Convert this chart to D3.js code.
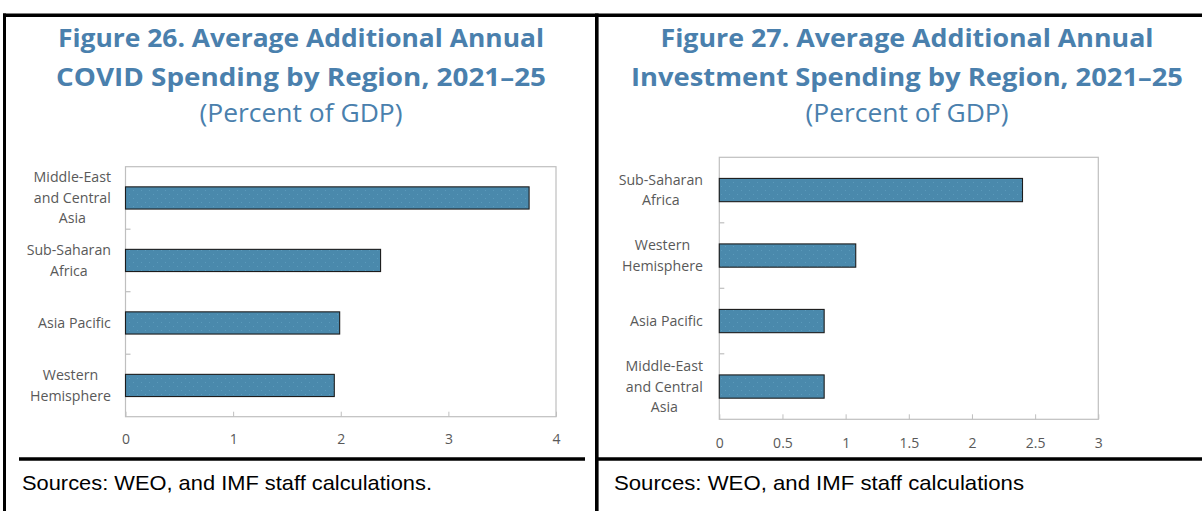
<!DOCTYPE html>
<html>
<head>
<meta charset="utf-8">
<script src="https://cdn.jsdelivr.net/npm/d3@7"></script>
<style>
  html, body { margin: 0; padding: 0; background: #fff; }
  svg { display: block; }
</style>
</head>
<body>
<svg id="chart" width="1202" height="511"></svg>
<script>
// ---------- Data ----------
const covidTitle = ["Figure 26. Average Additional Annual", "COVID Spending by Region, 2021–25"];
const covidSubtitle = "(Percent of GDP)";
const covidCategories = ["Middle-East\nand Central\nAsia", "Sub-Saharan\nAfrica", "Asia Pacific", "Western\nHemisphere"];
const covidValues = [3.75, 2.37, 1.99, 1.94];
const covidTicks = [0, 1, 2, 3, 4];
const covidSource = "Sources: WEO, and IMF staff calculations.";

const investTitle = ["Figure 27. Average Additional Annual", "Investment Spending by Region, 2021–25"];
const investSubtitle = "(Percent of GDP)";
const investCategories = ["Sub-Saharan\nAfrica", "Western\nHemisphere", "Asia Pacific", "Middle-East\nand Central\nAsia"];
const investValues = [2.40, 1.08, 0.83, 0.83];
const investTicks = [0, 0.5, 1, 1.5, 2, 2.5, 3];
const investSource = "Sources: WEO, and IMF staff calculations";

// ---------- Styling ----------
const TITLE_COLOR = "#4a80ad";
const BAR_COLOR = "#4a89ac";
const AXIS_COLOR = "#bfbfbf";
const LABEL_COLOR = "#595959";
const FONT = "'Open Sans', 'Noto Sans', sans-serif";

const svg = d3.select("#chart");

// dotted pattern for bars
const defs = svg.append("defs");
const pat = defs.append("pattern")
  .attr("id", "dots").attr("patternUnits", "userSpaceOnUse")
  .attr("width", 8).attr("height", 8);
pat.append("rect").attr("width", 8).attr("height", 8).attr("fill", BAR_COLOR);
pat.append("rect").attr("x", 1).attr("y", 2).attr("width", 1).attr("height", 1).attr("fill", "#5b9abb");
pat.append("rect").attr("x", 5).attr("y", 6).attr("width", 1).attr("height", 1).attr("fill", "#5b9abb");

// ---------- Frame ----------
const frame = svg.append("g").attr("stroke", "#000").attr("fill", "none");
frame.append("line").attr("x1", 3).attr("x2", 1202).attr("y1", 15.3).attr("y2", 15.3).attr("stroke-width", 3.5);
frame.append("line").attr("x1", 4.5).attr("x2", 4.5).attr("y1", 13.5).attr("y2", 511).attr("stroke-width", 3);
frame.append("line").attr("x1", 596.8).attr("x2", 596.8).attr("y1", 13.5).attr("y2", 511).attr("stroke-width", 3.6);
frame.append("line").attr("x1", 19).attr("x2", 585).attr("y1", 459).attr("y2", 459).attr("stroke-width", 3.3);
frame.append("line").attr("x1", 595).attr("x2", 1202).attr("y1", 459).attr("y2", 459).attr("stroke-width", 3.3);

function fitText(sel, width) {
  sel.attr("textLength", width).attr("lengthAdjust", "spacingAndGlyphs");
}

function drawPanel(cfg) {
  const g = svg.append("g");

  // titles
  const tl = [
    { t: cfg.title[0], y: 47, w: cfg.titleW[0], weight: 700 },
    { t: cfg.title[1], y: 86, w: cfg.titleW[1], weight: 700 },
    { t: cfg.subtitle, y: 122, w: cfg.titleW[2], weight: 400 }
  ];
  tl.forEach(d => {
    const t = g.append("text")
      .attr("x", cfg.titleX).attr("y", d.y)
      .attr("text-anchor", "middle")
      .attr("font-family", FONT)
      .attr("font-weight", d.weight)
      .attr("font-size", 25)
      .attr("fill", TITLE_COLOR)
      .text(d.t);
    fitText(t, d.w);
  });

  const x = d3.scaleLinear()
    .domain([cfg.ticks[0], cfg.ticks[cfg.ticks.length - 1]])
    .range([cfg.left, cfg.right]);
  const pInner = 0.645;
  const y = d3.scaleBand()
    .domain(cfg.categories)
    .range([cfg.top, cfg.bottom])
    .paddingInner(pInner)
    .paddingOuter(pInner / 2);

  // plot border
  g.append("rect")
    .attr("x", cfg.left).attr("y", cfg.top)
    .attr("width", cfg.right - cfg.left).attr("height", cfg.bottom - cfg.top)
    .attr("fill", "none").attr("stroke", AXIS_COLOR).attr("stroke-width", 1.2);

  // x axis
  const xAxis = d3.axisBottom(x)
    .tickValues(cfg.ticks)
    .tickFormat(d => String(d))
    .tickSizeInner(-5)
    .tickSizeOuter(0)
    .tickPadding(cfg.tickPad);
  const xg = g.append("g")
    .attr("transform", `translate(0,${cfg.bottom})`)
    .call(xAxis);
  xg.select(".domain").remove();
  xg.selectAll(".tick line").attr("stroke", AXIS_COLOR);
  xg.selectAll(".tick text")
    .attr("fill", LABEL_COLOR)
    .attr("font-family", FONT)
    .attr("font-size", 14);

  // y boundary ticks
  const step = y.step();
  cfg.categories.slice(1).forEach(c => {
    const yb = y(c) - step * pInner / 2;
    g.append("line")
      .attr("x1", cfg.left).attr("x2", cfg.left + 5)
      .attr("y1", yb).attr("y2", yb)
      .attr("stroke", AXIS_COLOR).attr("stroke-width", 1.2);
  });

  // category labels
  cfg.categories.forEach(c => {
    const lines = c.split("\n");
    const cy = y(c) + y.bandwidth() / 2;
    const lh = 20.5;
    const t = g.append("text")
      .attr("font-family", FONT)
      .attr("font-size", 14.2)
      .attr("fill", LABEL_COLOR)
      .attr("text-anchor", "middle");
    lines.forEach((ln, i) => {
      t.append("tspan")
        .attr("x", 0)
        .attr("y", cy + (i - (lines.length - 1) / 2) * lh)
        .attr("dy", "0.35em")
        .text(ln);
    });
    const w = t.node().getBBox().width;
    t.selectAll("tspan").attr("x", cfg.labelRight - w / 2);
  });

  // bars
  g.selectAll("rect.bar")
    .data(cfg.values)
    .enter().append("rect")
    .attr("class", "bar")
    .attr("x", x(0))
    .attr("y", (d, i) => y(cfg.categories[i]))
    .attr("width", d => x(d) - x(0))
    .attr("height", y.bandwidth())
    .attr("fill", "url(#dots)")
    .attr("stroke", "#1c1c1c")
    .attr("stroke-width", 1.1);

  // source
  const s = g.append("text")
    .attr("x", cfg.sourceX).attr("y", 490)
    .attr("font-family", "'Liberation Sans', 'Noto Sans', sans-serif")
    .attr("font-size", 21)
    .attr("fill", "#000")
    .text(cfg.source);
  fitText(s, 410);
}

drawPanel({
  title: covidTitle, subtitle: covidSubtitle,
  titleX: 301, titleW: [486, 490, 203],
  categories: covidCategories, values: covidValues, ticks: covidTicks,
  left: 125.5, right: 556, top: 166.7, bottom: 416.7,
  labelRight: 111, tickPad: 17,
  source: covidSource, sourceX: 22
});

drawPanel({
  title: investTitle, subtitle: investSubtitle,
  titleX: 907, titleW: [493, 552, 203],
  categories: investCategories, values: investValues, ticks: investTicks,
  left: 719.3, right: 1098.3, top: 157.3, bottom: 419.3,
  labelRight: 703, tickPad: 18.5,
  source: investSource, sourceX: 614
});
</script>
</body>
</html>
